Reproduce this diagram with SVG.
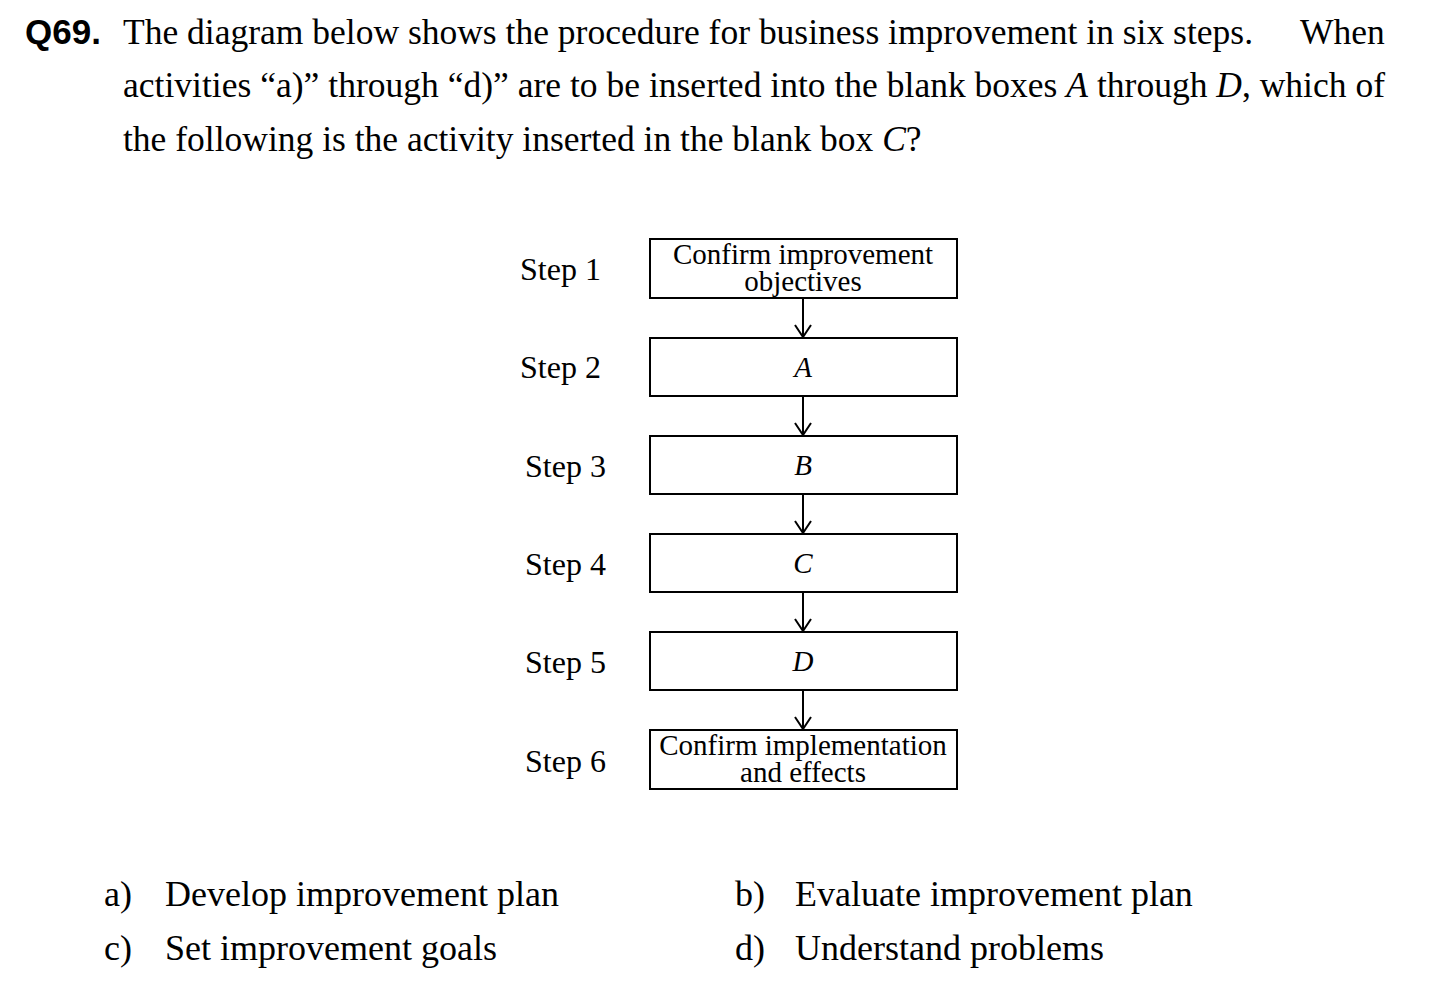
<svg xmlns="http://www.w3.org/2000/svg" width="1450" height="1000" viewBox="0 0 1450 1000">
  <defs>
    <!-- open V arrowhead, drawn along +x so orient="auto" follows the line -->
    <marker id="open-arrow" viewBox="0 0 14 18" refX="13" refY="9" markerWidth="14" markerHeight="18" markerUnits="userSpaceOnUse" orient="auto">
      <path d="M1,1 L13,9 L1,17" fill="none" stroke="#000" stroke-width="2"/>
    </marker>
    <style>
      .q { font-family: "Liberation Serif", "Times New Roman", serif; font-size: 35.5px; fill: #000; }
      .qn { font-family: "Liberation Sans", Arial, sans-serif; font-size: 35px; font-weight: bold; fill: #000; }
      .step { font-family: "Liberation Serif", "Times New Roman", serif; font-size: 32px; fill: #000; }
      .box { fill: #fff; stroke: #000; stroke-width: 2; }
      .bt { font-family: "Liberation Serif", "Times New Roman", serif; font-size: 29px; fill: #000; text-anchor: middle; }
      .it { font-style: italic; }
      .opt { font-family: "Liberation Serif", "Times New Roman", serif; font-size: 36px; fill: #000; }
      .conn line { stroke: #000; stroke-width: 2; marker-end: url(#open-arrow); }
    </style>
  </defs>
  <rect width="1450" height="1000" fill="#fff"/>

  <!-- question text -->
  <g id="question">
    <text class="qn" x="25" y="44">Q69.</text>
    <text class="q" x="123" y="44" textLength="1130" lengthAdjust="spacing">The diagram below shows the procedure for business improvement in six steps.</text>
    <text class="q" x="1300" y="44">When</text>
    <text class="q" x="123" y="97" textLength="1262" lengthAdjust="spacing">activities “a)” through “d)” are to be inserted into the blank boxes <tspan class="it">A</tspan> through <tspan class="it">D</tspan>, which of</text>
    <text class="q" x="123" y="151">the following is the activity inserted in the blank box <tspan class="it">C</tspan>?</text>
  </g>

  <!-- step labels -->
  <g id="step-labels">
    <text class="step" x="520" y="280">Step 1</text>
    <text class="step" x="520" y="378">Step 2</text>
    <text class="step" x="525" y="477">Step 3</text>
    <text class="step" x="525" y="575">Step 4</text>
    <text class="step" x="525" y="673">Step 5</text>
    <text class="step" x="525" y="772">Step 6</text>
  </g>

  <!-- process boxes -->
  <g id="step1">
    <rect class="box" x="650" y="239" width="307" height="59"/>
    <text class="bt" x="803" y="264">Confirm improvement</text>
    <text class="bt" x="803" y="291">objectives</text>
  </g>
  <g id="step2">
    <rect class="box" x="650" y="338" width="307" height="58"/>
    <text class="bt it" x="803" y="377">A</text>
  </g>
  <g id="step3">
    <rect class="box" x="650" y="436" width="307" height="58"/>
    <text class="bt it" x="803" y="475">B</text>
  </g>
  <g id="step4">
    <rect class="box" x="650" y="534" width="307" height="58"/>
    <text class="bt it" x="803" y="573">C</text>
  </g>
  <g id="step5">
    <rect class="box" x="650" y="632" width="307" height="58"/>
    <text class="bt it" x="803" y="671">D</text>
  </g>
  <g id="step6">
    <rect class="box" x="650" y="730" width="307" height="59"/>
    <text class="bt" x="803" y="755">Confirm implementation</text>
    <text class="bt" x="803" y="782">and effects</text>
  </g>

  <!-- connectors between steps -->
  <g id="connectors" class="conn">
    <line x1="803" y1="299" x2="803" y2="337"/>
    <line x1="803" y1="397" x2="803" y2="435"/>
    <line x1="803" y1="495" x2="803" y2="533"/>
    <line x1="803" y1="593" x2="803" y2="631"/>
    <line x1="803" y1="691" x2="803" y2="729"/>
  </g>

  <!-- answer options -->
  <g id="options">
    <text class="opt" x="104" y="906">a)</text>
    <text class="opt" x="165" y="906">Develop improvement plan</text>
    <text class="opt" x="104" y="960">c)</text>
    <text class="opt" x="165" y="960">Set improvement goals</text>
    <text class="opt" x="735" y="906">b)</text>
    <text class="opt" x="795" y="906">Evaluate improvement plan</text>
    <text class="opt" x="735" y="960">d)</text>
    <text class="opt" x="795" y="960">Understand problems</text>
  </g>
</svg>
